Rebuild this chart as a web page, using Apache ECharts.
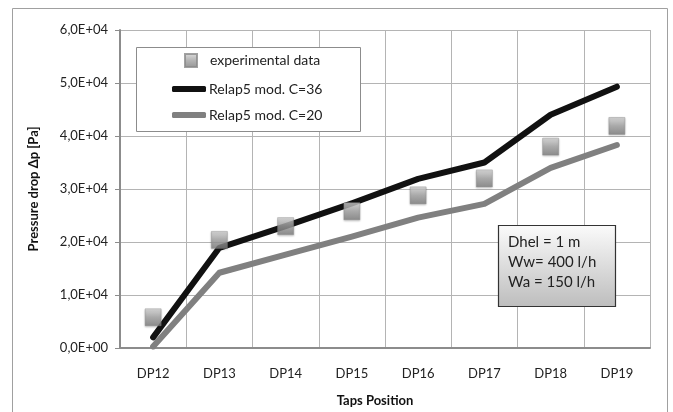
<!DOCTYPE html>
<html><head><meta charset="utf-8">
<script src="https://cdn.jsdelivr.net/npm/echarts@6/dist/echarts.min.js"></script>
<style>html,body{margin:0;padding:0;background:#fff}#c{width:673px;height:412px}</style>
</head><body><div id="c"></div>
<script>
var categories = ['DP12','DP13','DP14','DP15','DP16','DP17','DP18','DP19'];
var experimental = [5800, 20400, 23000, 25800, 28800, 32000, 38000, 41900];
var relapC36 = [2000, 18900, 23000, 27300, 31900, 35000, 44000, 49300];
var relapC20 = [300, 14200, 17600, 21000, 24600, 27200, 34000, 38300];
var seriesNames = ['experimental data', 'Relap5 mod. C=36', 'Relap5 mod. C=20'];
var noteLines = ['Dhel = 1 m', 'Ww= 400 l/h', 'Wa = 150 l/h'];

function fmt(v){
  if (v === 0) return '0,0E+00';
  var e = Math.floor(Math.log10(Math.abs(v)));
  var m = v / Math.pow(10, e);
  return m.toFixed(1).replace('.', ',') + 'E+' + (e < 10 ? '0' + e : e);
}
var font = 'Lato, "Open Sans", sans-serif';
var chart = echarts.init(document.getElementById('c'));
chart.setOption({
  animation: false,
  textStyle: {fontFamily: font},
  grid: {left: 120, right: 23, top: 30, bottom: 61, containLabel: false},
  xAxis: {
    type: 'category', data: categories, boundaryGap: true,
    axisLine: {lineStyle: {color: '#8c8c8c', width: 2}},
    axisTick: {show: false},
    splitLine: {show: true, interval: 0, lineStyle: {color: '#b4b4b4', width: 1}},
    axisLabel: {color: '#222', fontSize: 13, margin: 19, fontFamily: font},
    name: 'Taps Position', nameLocation: 'middle', nameGap: 46,
    nameTextStyle: {fontWeight: 'bold', fontSize: 13, color: '#111', fontFamily: font, padding: [0, 20, 0, 0]}
  },
  yAxis: {
    type: 'value', min: 0, max: 60000, interval: 10000,
    axisLine: {show: true, lineStyle: {color: '#8c8c8c', width: 2}},
    axisTick: {show: true, length: 5, lineStyle: {color: '#8c8c8c'}},
    splitLine: {lineStyle: {color: '#b4b4b4', width: 1}},
    axisLabel: {color: '#222', fontSize: 13, margin: 12, formatter: fmt, fontFamily: font},
    name: 'Pressure drop Δp [Pa]', nameLocation: 'middle', nameGap: 80,
    nameTextStyle: {fontWeight: 'bold', fontSize: 13, color: '#111', fontFamily: font}
  },
  legend: [
    {data: [seriesNames[0]], left: 184, top: 53, padding: 0, itemWidth: 12, itemHeight: 13, z: 10,
     textStyle: {fontSize: 14, color: '#222', padding: [0, 0, 0, 8], fontFamily: font}},
    {data: [{name: seriesNames[1], icon: 'roundRect'}, {name: seriesNames[2], icon: 'roundRect'}],
     orient: 'vertical', left: 172, top: 82, padding: 0, itemWidth: 34, itemHeight: 6, itemGap: 12, z: 10,
     textStyle: {fontSize: 14, color: '#222', fontFamily: font, padding: [0, 0, 0, -2]}}
  ],
  graphic: [
    {type: 'rect', shape: {x: 12.5, y: 8.5, width: 655, height: 420}, style: {fill: 'none', stroke: '#a0a0a0', lineWidth: 1}, z: -10},
    {type: 'rect', shape: {x: 136.5, y: 47.5, width: 224, height: 84}, style: {fill: '#fff', stroke: '#8c8c8c', lineWidth: 1}, z: 5},
    {type: 'rect', shape: {x: 498.5, y: 225.5, width: 117, height: 81},
     style: {fill: {type: 'linear', x: 0, y: 0, x2: 0, y2: 1, colorStops: [{offset: 0, color: '#fbfbfb'}, {offset: 1, color: '#bdbdbd'}]}, stroke: '#333', lineWidth: 1.2}, z: 5},
    {type: 'text', left: 508, top: 232, z: 6,
     style: {text: noteLines.join('\n'), fontSize: 15, lineHeight: 20, fill: '#222', fontFamily: font}}
  ],
  series: [
    {name: seriesNames[2], type: 'line', data: relapC20, symbol: 'none', z: 2,
     lineStyle: {color: '#808080', width: 6, cap: 'round', join: 'round'}, itemStyle: {color: '#808080'}},
    {name: seriesNames[1], type: 'line', data: relapC36, symbol: 'none', z: 3,
     lineStyle: {color: '#111', width: 6, cap: 'round', join: 'round'}, itemStyle: {color: '#111'}},
    {name: seriesNames[0], type: 'scatter', data: experimental, symbol: 'rect', symbolSize: [16, 17], z: 4,
     itemStyle: {color: {type: 'linear', x: 0, y: 0, x2: 0, y2: 1, colorStops: [{offset: 0, color: '#d6d6d6'}, {offset: 0.5, color: '#a0a0a0'}, {offset: 1, color: '#7a7a7a'}]},
       borderColor: '#8a8a8a', borderWidth: 0.5, shadowColor: 'rgba(0,0,0,0.25)', shadowBlur: 2, shadowOffsetY: 1}}
  ]
});
</script></body></html>
